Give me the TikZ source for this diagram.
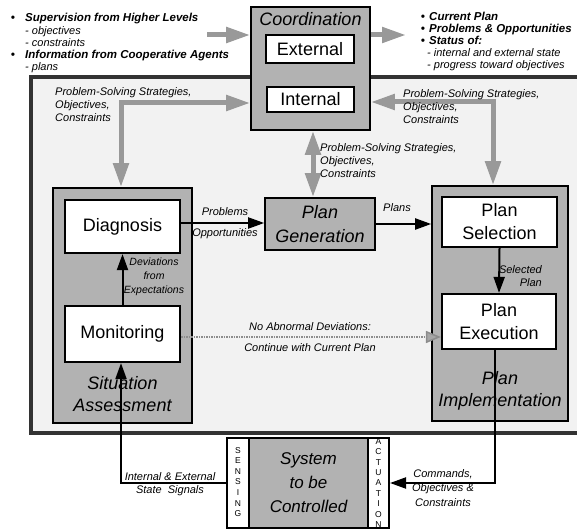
\documentclass[tikz,border=0pt]{standalone}
\usepackage{fontspec}
\setmainfont{Liberation Sans}
\usetikzlibrary{arrows.meta,calc}
\begin{document}
\begin{tikzpicture}[x=1pt,y=-1pt,
 shbox/.style={draw,line width=1.6pt,fill=black!30,inner sep=0pt},
 wbox/.style={draw,line width=2.2pt,fill=white,inner sep=0pt,align=center,font=\fontsize{18}{23}\selectfont},
 bigit/.style={font=\fontsize{18}{22}\selectfont\itshape,align=center,inner sep=0pt},
 lbl/.style={font=\fontsize{11}{13}\selectfont\itshape,inner sep=0pt},
 tbb/.style={font=\fontsize{11.5}{12}\selectfont\bfseries\itshape,inner sep=0pt},
 tri/.style={font=\fontsize{11}{12}\selectfont\itshape,inner sep=0pt},
 vlet/.style={font=\fontsize{8.5}{10.6}\selectfont,align=center,inner sep=0pt},
 blk/.style={line width=2pt,-{Triangle[length=16pt,width=11pt]}},
 garr/.style={line width=5pt,draw=black!40,-{Triangle[length=24pt,width=15pt,fill=black!40]}},
 garrb/.style={line width=5pt,draw=black!40,{Triangle[length=24pt,width=15pt,fill=black!40]}-{Triangle[length=24pt,width=15pt,fill=black!40]}},
 dotarr/.style={line width=1.5pt,draw=black!45,dash pattern=on 1.5pt off 1pt,-{Triangle[length=15pt,width=12pt,fill=black!35]}},
 frameline/.style={line width=4pt,draw=black!80}
]
\useasboundingbox (0,0) rectangle (577,529);
\fill[white] (0,0) rectangle (577,529);
% frame
\fill[black!5] (31,77) rectangle (577,433);
\draw[frameline] (590,77) -- (31,77) -- (31,433) -- (590,433);

% top-left text
\node[tbb,anchor=base] (b1) at (13,22) {•};
\node[tbb,anchor=base west] (t1) at (25,22) {Supervision from Higher Levels};
\node[tri,anchor=base west] (t2) at (25,34.25) {- objectives};
\node[tri,anchor=base west] (t3) at (25,46.5) {- constraints};
\node[tbb,anchor=base] (b2) at (13,58.75) {•};
\node[tbb,anchor=base west] (t4) at (25,58.75) {Information from Cooperative Agents};
\node[tri,anchor=base west] (t5) at (25,71) {- plans};

% top-right text
\node[tbb,anchor=base] (b3) at (423,21) {•};
\node[tbb,anchor=base west] (r1) at (429,21) {Current Plan};
\node[tbb,anchor=base] (b4) at (423,33) {•};
\node[tbb,anchor=base west] (r2) at (429,33) {Problems \& Opportunities};
\node[tbb,anchor=base] (b5) at (423,45) {•};
\node[tbb,anchor=base west] (r3) at (429,45) {Status of:};
\node[tri,anchor=base west] (r4) at (427,57) {- internal and external state};
\node[tri,anchor=base west] (r5) at (427,69) {- progress toward objectives};

% coordination
\node[shbox,minimum width=119pt,minimum height=123pt] (coord) at (310.5,68.5) {};
\node[bigit] (coordt) at (310.5,19) {Coordination};
\node[wbox,minimum width=88pt,minimum height=28pt] (ext) at (310,49) {External};
\node[wbox,minimum width=87pt,minimum height=25pt] (int) at (310.5,99.5) {Internal};

% situation assessment
\node[shbox,minimum width=139pt,minimum height=235pt] (sa) at (122.5,305.5) {};
\node[bigit] (sat) at (122.5,394) {Situation\\Assessment};
\node[wbox,minimum width=115pt,minimum height=53pt] (diag) at (122.5,226.5) {Diagnosis};
\node[wbox,minimum width=115pt,minimum height=56pt] (mon) at (122.5,334) {Monitoring};

% plan generation
\node[shbox,minimum width=110pt,minimum height=52pt,align=center,font=\fontsize{18}{24}\selectfont\itshape] (pg) at (320,224) {Plan\\Generation};

% plan implementation
\node[shbox,minimum width=136pt,minimum height=235pt] (impl) at (500,303.5) {};
\node[bigit] (implt) at (500,391) {Plan\\Implementation};
\node[wbox,minimum width=115pt,minimum height=50pt] (sel) at (499.5,222) {Plan\\Selection};
\node[wbox,minimum width=114pt,minimum height=55pt] (exe) at (499,321.5) {Plan\\Execution};

% system to be controlled
\node[draw,line width=2pt,fill=white,minimum width=162pt,minimum height=90pt,inner sep=0pt] (sys) at (308,483) {};
\node[draw,line width=1.2pt,fill=black!30,minimum width=119pt,minimum height=90pt,inner sep=0pt,align=center,font=\fontsize{17}{24}\selectfont\itshape] (ctl) at (308.5,483) {System\\to be\\Controlled};
\node[vlet] (sens) at (238,482) {S\\E\\N\\S\\I\\N\\G};
\node[vlet,font=\fontsize{8.5}{10.4}\selectfont] (act) at (378.5,483) {A\\C\\T\\U\\A\\T\\I\\O\\N};

% gray arrows
\coordinate (inL) at (207,35);
\coordinate (outR) at (406,35);
\draw[garr] (inL) -- (inL -| coord.west);
\draw[garr] (outR -| coord.east) -- (outR);
\coordinate (lc) at (121,103);
\draw[garrb] (lc -| coord.west) -- (lc) -- (lc |- sa.north);
\coordinate (rc) at (493,102);
\draw[garrb] (rc -| coord.east) -- (rc) -- (rc |- impl.north);
\coordinate (cc) at (313,130);
\draw[garrb] (cc |- coord.south) -- (cc |- pg.north);

% black arrows
\draw[blk] (mon.north) -- (diag.south);
\coordinate (dp) at (180,223);
\draw[blk] (dp -| diag.east) -- (dp -| pg.west);
\draw[blk] (pg.east) -- (pg.east -| impl.west);
\draw[blk] (sel.south) -- (exe.north);
\coordinate (sc) at (121,483);
\draw[blk] (sys.west) -- (sc) -- (sc |- mon.south);
\coordinate (ec) at (495,483);
\draw[blk] (ec |- exe.south) -- (ec) -- (sys.east);
\coordinate (me) at (180,337);
\draw[dotarr] (me -| mon.east) -- (me -| exe.west);

% labels
\node[lbl,anchor=north west,align=left] (l1) at (55,87) {Problem-Solving Strategies,\\Objectives,\\Constraints};
\node[lbl,anchor=north west,align=left] (l2) at (403,89) {Problem-Solving Strategies,\\Objectives,\\Constraints};
\node[lbl,anchor=north west,align=left] (l3) at (320,143) {Problem-Solving Strategies,\\Objectives,\\Constraints};
\node[lbl] (lp) at (225,212) {Problems};
\node[lbl] (lo) at (225,234) {Opportunities};
\node[lbl] (lpl) at (397,208) {Plans};
\node[lbl,anchor=north,align=center,font=\fontsize{10.5}{14}\selectfont\itshape] (ldev) at (154,258) {Deviations\\from\\Expectations};
\node[lbl,anchor=north east,align=right] (lsel) at (542,265) {Selected\\Plan};
\node[lbl] (lna) at (310,327) {No Abnormal Deviations:};
\node[lbl] (lcw) at (310,348) {Continue with Current Plan};
\node[lbl] (lie) at (170,477) {Internal \& External};
\node[lbl] (lss) at (170,491) {State~~Signals};
\node[lbl,anchor=north,align=center,font=\fontsize{11}{14.5}\selectfont\itshape] (lcmd) at (443,469) {Commands,\\Objectives \&\\Constraints};
\end{tikzpicture}
\end{document}
